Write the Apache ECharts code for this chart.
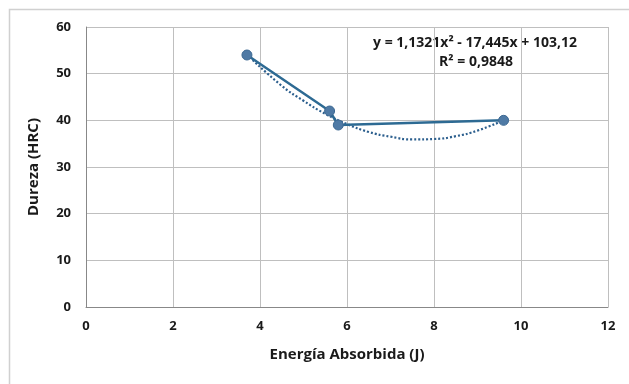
<!DOCTYPE html>
<html>
<head>
<meta charset="utf-8">
<script src="https://cdn.jsdelivr.net/npm/echarts@6/dist/echarts.min.js"></script>
<style>html,body{margin:0;padding:0;background:#fff;}#c{width:629px;height:384px;}</style>
</head>
<body>
<div id="c"></div>
<script>
// Measured points
var energy = [3.7, 5.6, 5.8, 9.6];
var hardness = [54, 42, 39, 40];
// Polynomial trendline
var trendX = [3.7, 4.5, 5.0, 5.5, 6.0, 6.5, 7.0, 7.5, 8.0, 8.5, 9.0, 9.6];
var trendY = [54.1, 47.4, 44.2, 41.4, 39.2, 37.5, 36.5, 35.9, 36.0, 36.6, 37.8, 40.0];
var xTicks = [0, 2, 4, 6, 8, 10, 12];
var yTicks = [0, 10, 20, 30, 40, 50, 60];
var eqLine1 = 'y = 1,1321x² - 17,445x + 103,12';
var eqLine2 = 'R² = 0,9848';

var chart = echarts.init(document.getElementById('c'));
var font = 'Open Sans';
chart.setOption({
  backgroundColor: '#fff',
  animation: false,
  grid: {left: 86, right: 21, top: 27, bottom: 77},
  xAxis: {
    type: 'value', min: xTicks[0], max: xTicks[xTicks.length - 1], interval: 2,
    name: 'Energía Absorbida (J)', nameLocation: 'middle', nameGap: 40,
    nameTextStyle: {fontFamily: font, fontWeight: 'bold', fontSize: 15, color: '#1a1a1a'},
    axisLine: {show: true, lineStyle: {color: '#888'}},
    axisTick: {show: false},
    axisLabel: {fontFamily: font, fontWeight: 'bold', fontSize: 13, color: '#1a1a1a', margin: 13},
    splitLine: {show: true, lineStyle: {color: '#bfbfbf'}}
  },
  yAxis: {
    type: 'value', min: yTicks[0], max: yTicks[yTicks.length - 1], interval: 10,
    name: 'Dureza (HRC)', nameLocation: 'middle', nameGap: 45, nameRotate: 90,
    nameTextStyle: {fontFamily: font, fontWeight: 'bold', fontSize: 15, color: '#1a1a1a'},
    axisLine: {show: true, lineStyle: {color: '#888'}},
    axisTick: {show: false},
    axisLabel: {fontFamily: font, fontWeight: 'bold', fontSize: 13, color: '#1a1a1a', margin: 15},
    splitLine: {show: true, lineStyle: {color: '#bfbfbf'}}
  },
  graphic: [
    {type: 'rect', left: 7, top: 7, shape: {width: 700, height: 500}, style: {fill: 'none', stroke: '#d0d0d0', lineWidth: 1.5}, z: -1},
    {type: 'text', x: 475, y: 43, style: {text: eqLine1, align: 'center', verticalAlign: 'middle', fontFamily: font, fontWeight: 'bold', fontSize: 14, fill: '#1a1a1a'}},
    {type: 'text', x: 476, y: 62, style: {text: eqLine2, align: 'center', verticalAlign: 'middle', fontFamily: font, fontWeight: 'bold', fontSize: 14, fill: '#1a1a1a'}}
  ],
  series: [
    {
      type: 'line', data: trendX.map(function (x, i) { return [x, trendY[i]]; }),
      smooth: true, showSymbol: false, symbol: 'none',
      lineStyle: {color: '#2c5f8e', width: 2.2, type: [2, 2]}, z: 2
    },
    {
      type: 'line', data: energy.map(function (x, i) { return [x, hardness[i]]; }),
      symbol: 'circle', symbolSize: 10,
      itemStyle: {color: '#4f7aa5', borderColor: '#3d6993', borderWidth: 1},
      lineStyle: {color: '#2d6a93', width: 2.5}, z: 3
    }
  ]
});
</script>
</body>
</html>
